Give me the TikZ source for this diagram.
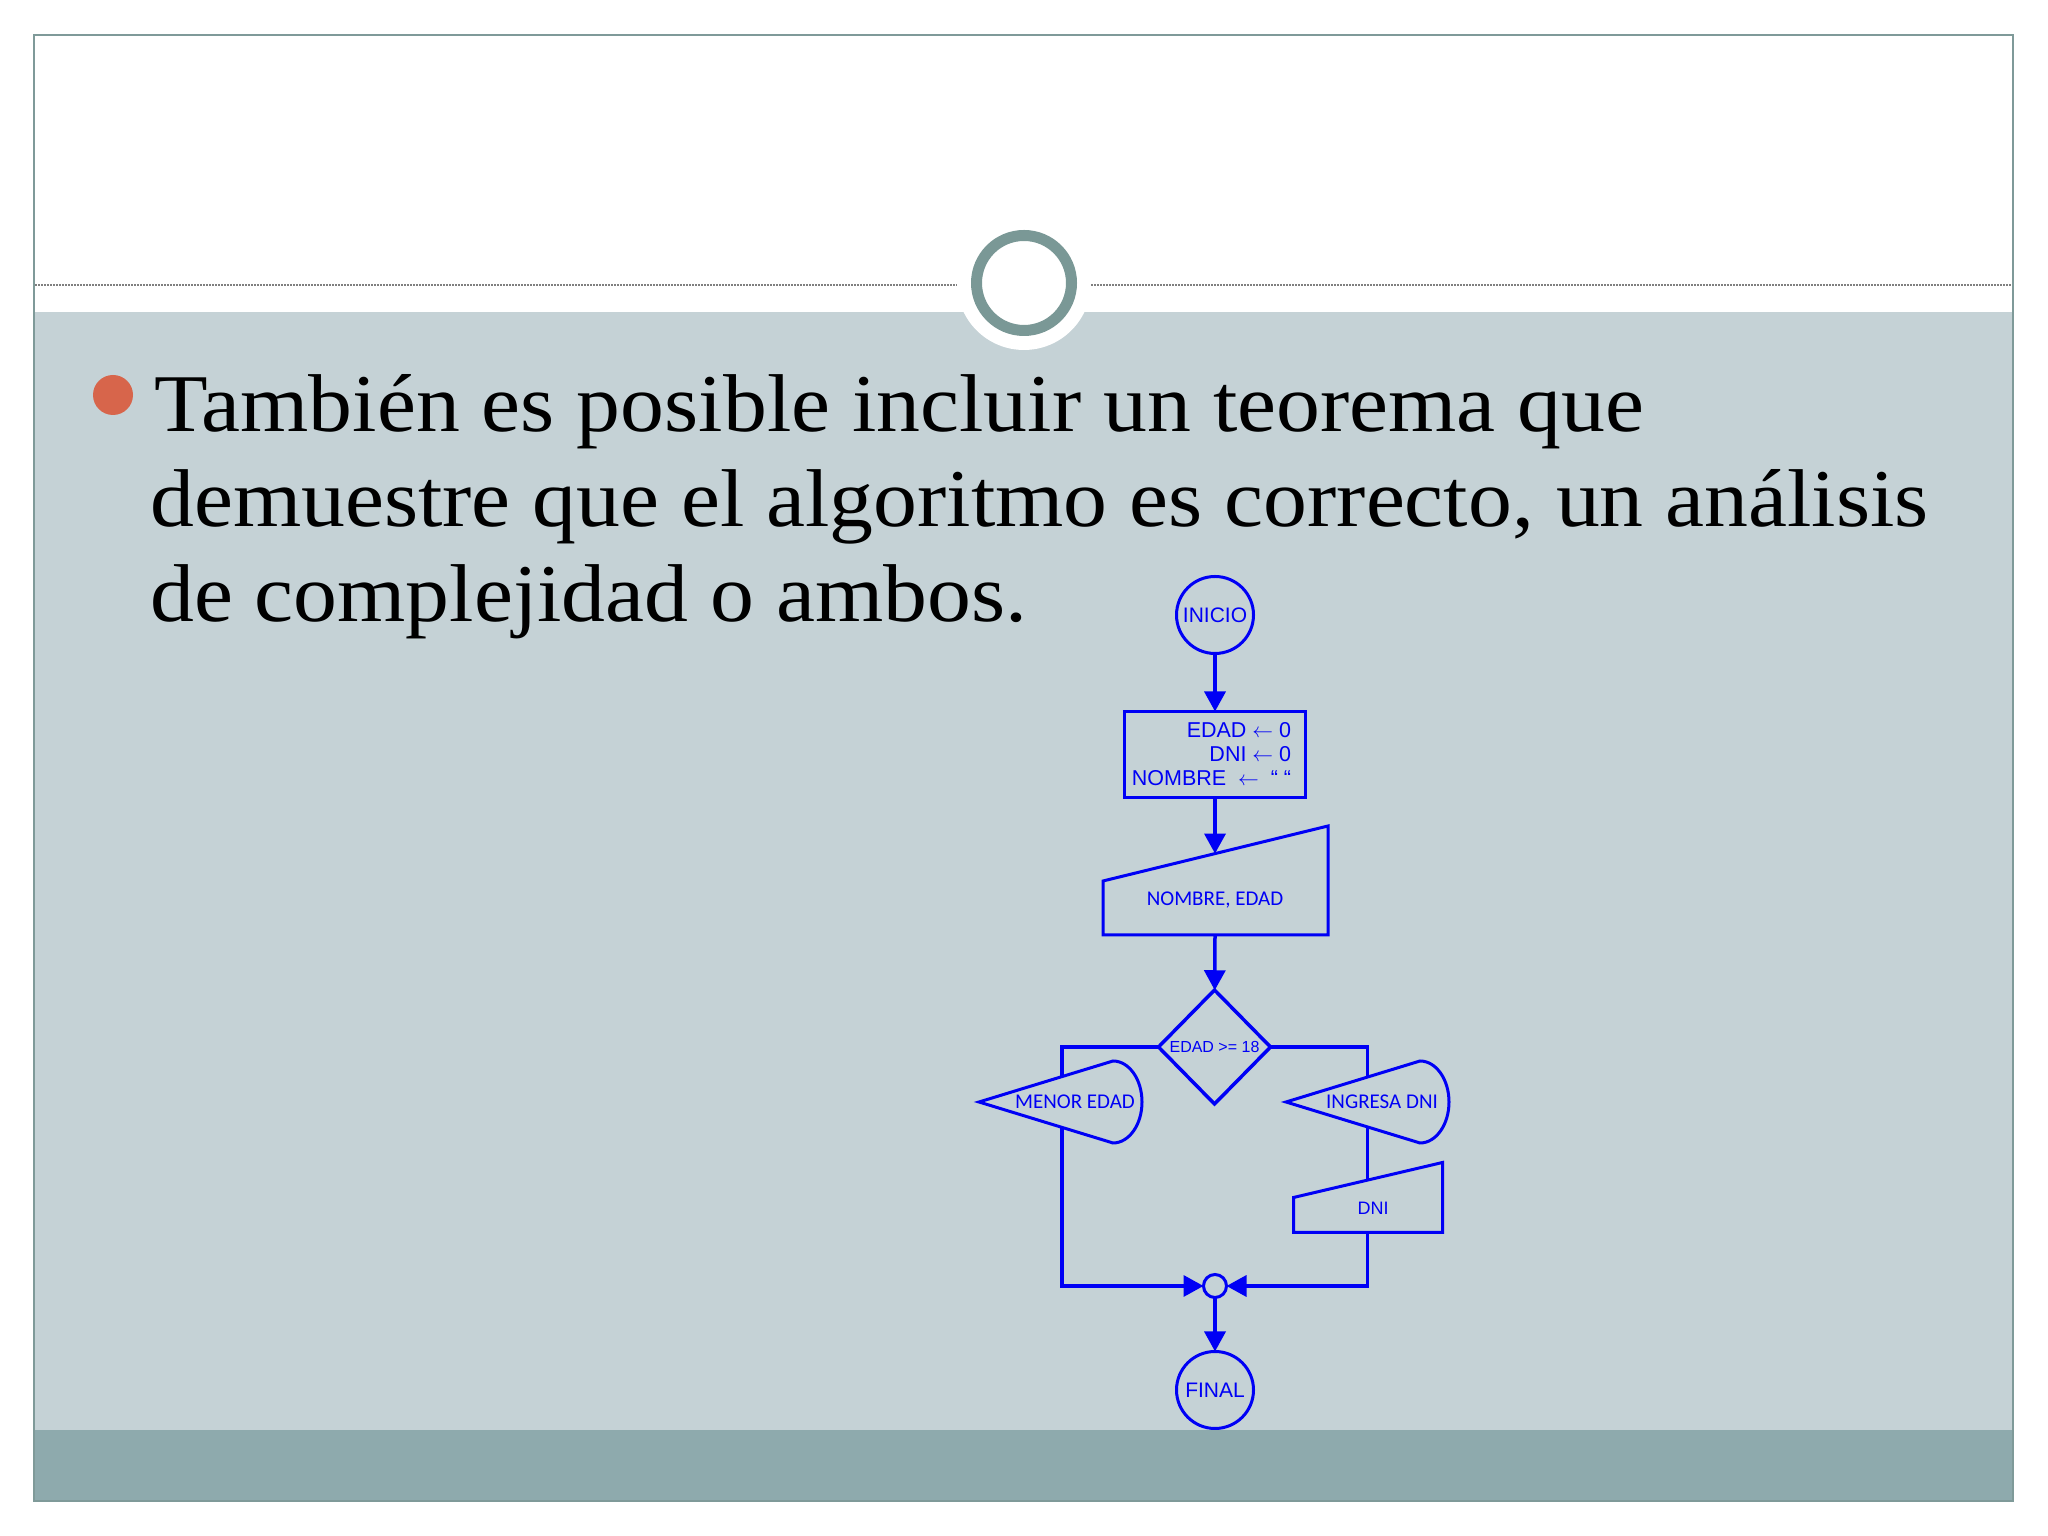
\documentclass[tikz,border=0pt]{standalone}
\usepackage{fontspec}
\setmainfont{Liberation Serif}[FakeStretch=1.07]
\newfontfamily\arial{Liberation Sans}
\newfontfamily\calibri{Carlito}
\usetikzlibrary{arrows.meta,calc,shapes.geometric,positioning}

\definecolor{azul}{RGB}{0,0,245}
\definecolor{banda}{RGB}{197,210,214}
\definecolor{pie}{RGB}{142,170,173}
\definecolor{aro}{RGB}{122,152,150}
\definecolor{marco}{RGB}{127,154,153}
\definecolor{vineta}{RGB}{215,101,75}

\begin{document}
\begin{tikzpicture}[x=1pt,y=1pt,
flecha/.style={
  line width=3.5pt,
  draw=azul,
  -{Triangle[length=20pt,width=21pt]}
},
linea/.style={
  line width=3.5pt,
  draw=azul
},
forma/.style={
  line width=3pt,
  draw=azul
},
terminal/.style={
  circle,
  draw=azul,
  line width=3pt,
  minimum size=77pt,
  inner sep=0pt,
  outer sep=0pt,
  text=azul,
  font=\arial\fontsize{21}{21}\selectfont
},
caja/.style={
  rectangle,
  draw=azul,
  line width=3pt,
  minimum width=181pt,
  minimum height=86pt,
  inner sep=0pt,
  outer sep=0pt,
  align=right,
  text=azul,
  font=\arial\fontsize{21.5}{24}\selectfont
},
decision/.style={
  diamond,
  draw=azul,
  line width=3.5pt,
  minimum width=112pt,
  minimum height=114pt,
  inner sep=0pt,
  outer sep=0pt,
  text=azul,
  font=\arial\fontsize{16}{16}\selectfont
},
union/.style={
  circle,
  draw=azul,
  line width=3pt,
  minimum size=23pt,
  inner sep=0pt,
  outer sep=0pt
},
rotulo/.style={
  inner sep=0pt,
  text=azul,
  font=\calibri\fontsize{21}{21}\selectfont
},
parrafo/.style={
  inner sep=0pt,
  anchor=base west,
  font=\fontsize{82}{95}\selectfont
}]
% fondo de la diapositiva
\useasboundingbox (0,0) rectangle (2048,1536);
\fill[white] (0,0) rectangle (2048,1536);
\fill[banda] (34,106) rectangle (2013,1224);
\fill[pie] (34,35) rectangle (2013,106);
\draw[gray, line width=1.5pt, dash pattern=on 1.5pt off 1.5pt] (35,1251) -- (2012,1251);
\fill[white] (1024,1253) circle[radius=67];
\draw[aro, line width=11pt] (1024,1253) circle[radius=47.5];
\draw[marco, line width=2pt] (34,35) rectangle (2013,1501);

% texto
\fill[vineta] (113,1141) circle[radius=20];
\node[parrafo] (linea1) at (154,1104) {También es posible incluir un teorema que};
\node[parrafo] (linea2) at (150,1009) {demuestre que el algoritmo es correcto, un análisis};
\node[parrafo] (linea3) at (150,914) {de complejidad o ambos.};

% diagrama de flujo
\node[terminal] (inicio) at (1215,921) {INICIO};
\node[caja] (caja) at (1215,781.5) {EDAD $\leftarrow$ 0\kern7pt\\DNI $\leftarrow$ 0\kern7pt\\NOMBRE\ \ $\leftarrow$\ \ “ “\kern7pt};

\node[rotulo] (leer) at (1215,636) {NOMBRE, EDAD};
\draw[forma] ($(leer)+(-112,-35)$) -- ($(leer)+(113,-35)$) -- ($(leer)+(113,74)$) -- ($(leer)+(-112,19)$) -- cycle;
\coordinate (leer-arriba) at ($(leer)+(0,46.4)$);
\coordinate (leer-abajo) at ($(leer)+(0,-35)$);

\draw[flecha] (inicio) -- (caja);
\draw[flecha] (caja) -- (leer-arriba);

\node[decision] (decision) at (1214.5,489) {EDAD >= 18};
\draw[flecha] (leer-abajo) -- (decision);

\node[rotulo] (menor) at (1075,434) {MENOR EDAD};
\draw[forma] ($(menor)+(-96,0)$) -- ($(menor)+(38,41)$) arc[start angle=90,end angle=-90,x radius=29,y radius=41] -- cycle;
\coordinate (menor-arriba) at ($(menor)+(-13,25.4)$);
\coordinate (menor-abajo) at ($(menor)+(-13,-25.4)$);

\node[rotulo] (ingresa) at (1382,434) {INGRESA DNI};
\draw[forma] ($(ingresa)+(-96,0)$) -- ($(ingresa)+(38,41)$) arc[start angle=90,end angle=-90,x radius=29,y radius=41] -- cycle;
\coordinate (ingresa-arriba) at ($(ingresa)+(-14.5,24.9)$);
\coordinate (ingresa-abajo) at ($(ingresa)+(-14.5,-24.9)$);

\draw[linea] (decision.west) -| (menor-arriba);
\draw[linea] (decision.east) -| (ingresa-arriba);

\node[rotulo, font=\arial\fontsize{18}{18}\selectfont] (dni) at (1373,328) {DNI};
\draw[forma] ($(dni)+(-79.5,-24.5)$) -- ($(dni)+(69.5,-24.5)$) -- ($(dni)+(69.5,45.5)$) -- ($(dni)+(-79.5,10.5)$) -- cycle;
\coordinate (dni-arriba) at ($(dni)+(-5.5,27.9)$);
\coordinate (dni-abajo) at ($(dni)+(-5.5,-24.5)$);

\draw[linea] (ingresa-abajo) -- (dni-arriba);

\node[union] (union) at (1215,250) {};
\node[terminal] (final) at (1215,146) {FINAL};

\draw[flecha] (menor-abajo) |- (union);
\draw[flecha] (dni-abajo) |- (union);
\draw[flecha] (union) -- (final);

\end{tikzpicture}
\end{document}
